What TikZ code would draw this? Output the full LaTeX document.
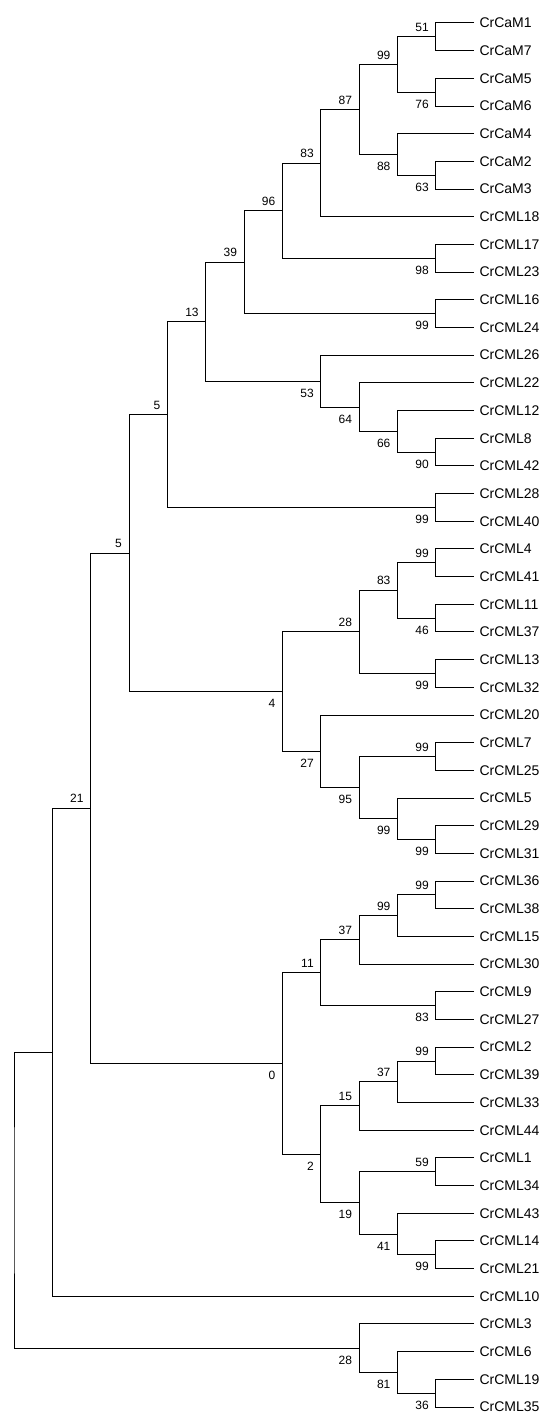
\documentclass[tikz,border=0pt]{standalone}
\usepackage{fontspec}
\setmainfont{Liberation Sans}
\usetikzlibrary{calc}

\begin{document}
\begin{tikzpicture}[x=1pt, y=-1pt,
  branch/.style={draw=black, line width=1pt},
  leaf/.style={anchor=west, inner xsep=5.3pt, inner ysep=0pt, font=\fontsize{14}{16}\selectfont},
  bs/.style={anchor=base east, inner sep=0pt, xshift=-7pt, font=\fontsize{12}{14}\selectfont},
  bsup/.style={bs, yshift=5.5pt},
  bsdown/.style={bs, yshift=-16pt}]
\useasboundingbox (0,0) rectangle (550,1421);

% The leaves, one name per row, all on the rightmost level.
\foreach \nm [count=\i from 0] in {CrCaM1, CrCaM7, CrCaM5, CrCaM6, CrCaM4,
	CrCaM2, CrCaM3, CrCML18, CrCML17, CrCML23, CrCML16, CrCML24, CrCML26,
	CrCML22, CrCML12, CrCML8, CrCML42, CrCML28, CrCML40, CrCML4, CrCML41,
	CrCML11, CrCML37, CrCML13, CrCML32, CrCML20, CrCML7, CrCML25, CrCML5,
	CrCML29, CrCML31, CrCML36, CrCML38, CrCML15, CrCML30, CrCML9, CrCML27,
	CrCML2, CrCML39, CrCML33, CrCML44, CrCML1, CrCML34, CrCML43, CrCML14,
	CrCML21, CrCML10, CrCML3, CrCML6, CrCML19, CrCML35}
	\node[leaf] (\nm) at (474, 23+27.68*\i) {\nm};

% Inner nodes, children first: name/level/upper child/lower child/support/side.
% Each one sits halfway between its two children, on its own level.
\foreach \nd/\lv/\ca/\cb/\lb/\sd in {
	n51/11/CrCaM1/CrCaM7/51/bsup, n76/11/CrCaM5/CrCaM6/76/bsdown,
	n99a/10/n51/n76/99/bsup, n63/11/CrCaM2/CrCaM3/63/bsdown,
	n88/10/CrCaM4/n63/88/bsdown, n87/9/n99a/n88/87/bsup,
	n83a/8/n87/CrCML18/83/bsup, n98/11/CrCML17/CrCML23/98/bsdown,
	n96/7/n83a/n98/96/bsup, n99b/11/CrCML16/CrCML24/99/bsdown,
	n39/6/n96/n99b/39/bsup, n90/11/CrCML8/CrCML42/90/bsdown,
	n66/10/CrCML12/n90/66/bsdown, n64/9/CrCML22/n66/64/bsdown,
	n53/8/CrCML26/n64/53/bsdown, n13/5/n39/n53/13/bsup,
	n99c/11/CrCML28/CrCML40/99/bsdown, n5a/4/n13/n99c/5/bsup,
	n99d/11/CrCML4/CrCML41/99/bsup, n46/11/CrCML11/CrCML37/46/bsdown,
	n83b/10/n99d/n46/83/bsup, n99e/11/CrCML13/CrCML32/99/bsdown,
	n28a/9/n83b/n99e/28/bsup, n99f/11/CrCML7/CrCML25/99/bsup,
	n99h/11/CrCML29/CrCML31/99/bsdown, n99g/10/CrCML5/n99h/99/bsdown,
	n95/9/n99f/n99g/95/bsdown, n27/8/CrCML20/n95/27/bsdown,
	n4/7/n28a/n27/4/bsdown, n5b/3/n5a/n4/5/bsup,
	n99j/11/CrCML36/CrCML38/99/bsup, n99i/10/n99j/CrCML15/99/bsup,
	n37a/9/n99i/CrCML30/37/bsup, n83c/11/CrCML9/CrCML27/83/bsdown,
	n11/8/n37a/n83c/11/bsup, n99k/11/CrCML2/CrCML39/99/bsup,
	n37b/10/n99k/CrCML33/37/bsup, n15/9/n37b/CrCML44/15/bsup,
	n59/11/CrCML1/CrCML34/59/bsup, n99l/11/CrCML14/CrCML21/99/bsdown,
	n41/10/CrCML43/n99l/41/bsdown, n19/9/n59/n41/19/bsdown,
	n2/8/n15/n19/2/bsdown, n0/7/n11/n2/0/bsdown,
	n21/2/n5b/n0/21/bsup, n36/11/CrCML19/CrCML35/36/bsdown,
	n81/10/CrCML6/n36/81/bsdown, n28b/9/CrCML3/n81/28/bsdown} {
	\path let \p1=(\ca), \p2=(\cb) in (14+38.36*\lv, {0.5*(\y1+\y2)}) coordinate (\nd);
	\draw[branch] (\ca) -| (\nd) |- (\cb);
	\node[\sd] (s\nd) at (\nd) {\lb};
}

% The two deepest splits carry no support value.
\path let \p1=(n21), \p2=(CrCML10) in (14+38.36, {0.5*(\y1+\y2)}) coordinate (nL1);
\draw[branch] (n21) -| (nL1) |- (CrCML10);
\path let \p1=(nL1), \p2=(n28b) in (14, {0.5*(\y1+\y2)}) coordinate (root);
\draw[branch] (nL1) -| (root) |- (n28b);
\end{tikzpicture}
\end{document}
